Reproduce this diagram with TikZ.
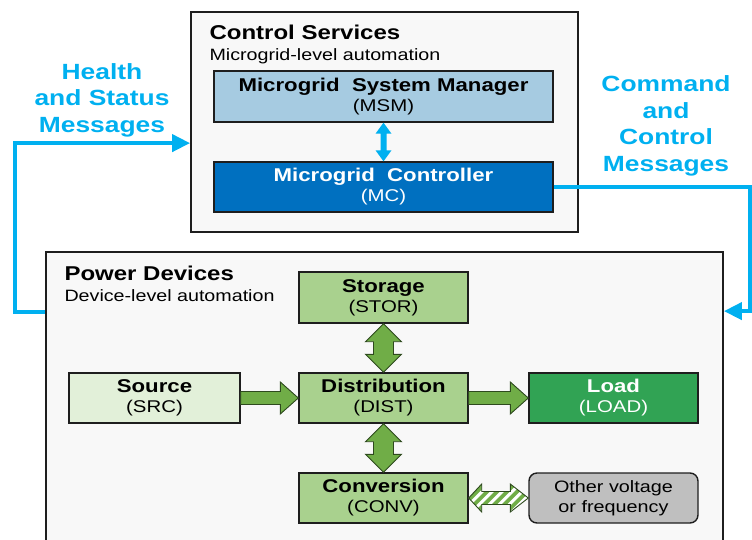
\documentclass[tikz,border=0pt]{standalone}
\usepackage{fontspec}
\setmainfont{Liberation Sans}[FakeStretch=1.2]
\usetikzlibrary{calc,arrows.meta}

\definecolor{msgcyan}{HTML}{00B0F0}
\definecolor{panelfill}{HTML}{F8F8F8}
\definecolor{msmblue}{HTML}{A6CBE1}
\definecolor{mcblue}{HTML}{0070C0}
\definecolor{unitgreen}{HTML}{A9D18E}
\definecolor{srcgreen}{HTML}{E2F0D9}
\definecolor{loadgreen}{HTML}{31A354}
\definecolor{othergray}{HTML}{BFBFBF}
\definecolor{flowgreen}{HTML}{70AD47}
\definecolor{flowedge}{HTML}{2E4A1E}
\definecolor{edgeblack}{HTML}{1E1E1E}

\newcommand{\titlefont}{\fontsize{20}{24}\selectfont\bfseries}
\newcommand{\subfont}{\fontsize{16.4}{20}\selectfont}
\newcommand{\msgfont}{\fontsize{22}{26.5}\selectfont\bfseries}
\newcommand{\unitfont}{\fontsize{18.5}{20}\selectfont}
\newcommand{\abbr}[1]{{\fontsize{17}{20}\selectfont #1}}

\tikzset{
  panel/.style={draw=edgeblack, line width=1.8pt, fill=panelfill, inner sep=0pt},
  unit/.style={draw=edgeblack, line width=1.4pt, minimum width=169pt,
    minimum height=50pt, inner sep=0pt, align=center, font=\unitfont},
  msgline/.style={draw=msgcyan, line width=4pt,
    -{Triangle[length=18pt,width=17pt]}},
  msglabel/.style={text=msgcyan, align=center, font=\msgfont},
  flow/.style={fill=flowgreen, draw=flowedge, line width=0.9pt, line join=miter},
  link/.style={fill=msgcyan},
}

\begin{document}
\begin{tikzpicture}[x=1pt,y=-1pt]
\useasboundingbox (0,0) rectangle (752,539);
\clip (0,0) rectangle (752,539);

% ---- panels ----
\node[panel, minimum width=387pt, minimum height=220pt] (ctrl) at (384.5,122) {};
\node[panel, minimum width=677pt, minimum height=348pt] (power) at (384.5,426) {};

\node[anchor=base west, font=\titlefont] (ctrltitle) at (206,39) {Control Services};
\node[anchor=base west, font=\subfont] (ctrlsub) at (206,60) {Microgrid-level automation};
\node[anchor=base west, font=\titlefont] (powtitle) at (61,280) {Power Devices};
\node[anchor=base west, font=\subfont] (powsub) at (61,301) {Device-level automation};

% ---- control services ----
\node[unit, fill=msmblue, minimum width=339pt, minimum height=51pt] (msm) at (383.5,96.5)
  {\textbf{Microgrid\ \ System Manager}\\\abbr{(MSM)}};
\node[unit, fill=mcblue, text=white, minimum width=339pt] (mc) at (383.5,187)
  {\textbf{Microgrid\ \ Controller}\\\abbr{(MC)}};

% two-way link between MSM and MC
\fill[link] (msm.south) -- ++(8,11) -- ++(-5,0) -- ($(mc.north)+(3,-11)$) -- ++(5,0)
  -- (mc.north) -- ++(-8,-11) -- ++(5,0) -- ($(msm.south)+(-3,11)$) -- ++(-5,0) -- cycle;

% ---- power devices ----
\node[unit, fill=unitgreen, minimum height=51pt] (stor) at (383.5,297.5)
  {\textbf{Storage}\\\abbr{(STOR)}};
\node[unit, fill=srcgreen, minimum width=171pt] (src) at (154.5,398)
  {\textbf{Source}\\\abbr{(SRC)}};
\node[unit, fill=unitgreen] (dist) at (383.5,398)
  {\textbf{Distribution}\\\abbr{(DIST)}};
\node[unit, fill=loadgreen, text=white] (load) at (613.5,398)
  {\textbf{Load}\\\abbr{(LOAD)}};
\node[unit, fill=unitgreen] (conv) at (383.5,498)
  {\textbf{Conversion}\\\abbr{(CONV)}};
\node[unit, fill=othergray, rounded corners=8pt, font=\fontsize{16.5}{20}\selectfont] (other) at (613.5,498)
  {Other voltage\\or frequency};

% one-way power flows
\filldraw[flow] ($(src.east)+(0,-6.5)$) -- ($(dist.west)+(-18,-6.5)$) -- ($(dist.west)+(-18,-16)$)
  -- (dist.west) -- ($(dist.west)+(-18,16)$) -- ($(dist.west)+(-18,6.5)$)
  -- ($(src.east)+(0,6.5)$) -- cycle;
\filldraw[flow] ($(dist.east)+(0,-6.5)$) -- ($(load.west)+(-18,-6.5)$) -- ($(load.west)+(-18,-16)$)
  -- (load.west) -- ($(load.west)+(-18,16)$) -- ($(load.west)+(-18,6.5)$)
  -- ($(dist.east)+(0,6.5)$) -- cycle;

% two-way power flows
\filldraw[flow] (stor.south) -- ++(18,18) -- ++(-8,0) -- ($(dist.north)+(10,-18)$) -- ++(8,0)
  -- (dist.north) -- ++(-18,-18) -- ++(8,0) -- ($(stor.south)+(-10,18)$) -- ++(-8,0) -- cycle;
\filldraw[flow] (dist.south) -- ++(18,18) -- ++(-8,0) -- ($(conv.north)+(10,-18)$) -- ++(8,0)
  -- (conv.north) -- ++(-18,-18) -- ++(8,0) -- ($(dist.south)+(-10,18)$) -- ++(-8,0) -- cycle;

% striped two-way link to other voltage or frequency
\path[save path=\stripearrow] (conv.east) -- ++(13,-14) -- ++(0,7.5) -- ($(other.west)+(-18,-6.5)$)
  -- ++(0,-7.5) -- (other.west) -- ++(-18,14) -- ++(0,-7.5) -- ($(conv.east)+(13,6.5)$)
  -- ++(0,7.5) -- cycle;
\fill[white, use path=\stripearrow];
\begin{scope}
  \clip[use path=\stripearrow];
  \foreach \i in {-40,-30,...,90}
    \draw[flowgreen, line width=3.6pt] ($(conv.east)+(\i,22)$) -- ++(44,-44);
\end{scope}
\draw[flowedge, line width=0.9pt, line join=miter, use path=\stripearrow];

% ---- message paths ----
\draw[msgline] ($(power.north west)+(0,61)$) -- ++(-30,0) |- ($(ctrl.north west)+(0,132)$);
\draw[msgline] (mc.east) -- ++(196,0) |- ($(power.north east)+(0,60)$);

\node[msglabel] (health) at (102,100) {Health\\and Status\\Messages};
\node[msglabel] (command) at (666,126) {Command\\and\\Control\\Messages};

\end{tikzpicture}
\end{document}
